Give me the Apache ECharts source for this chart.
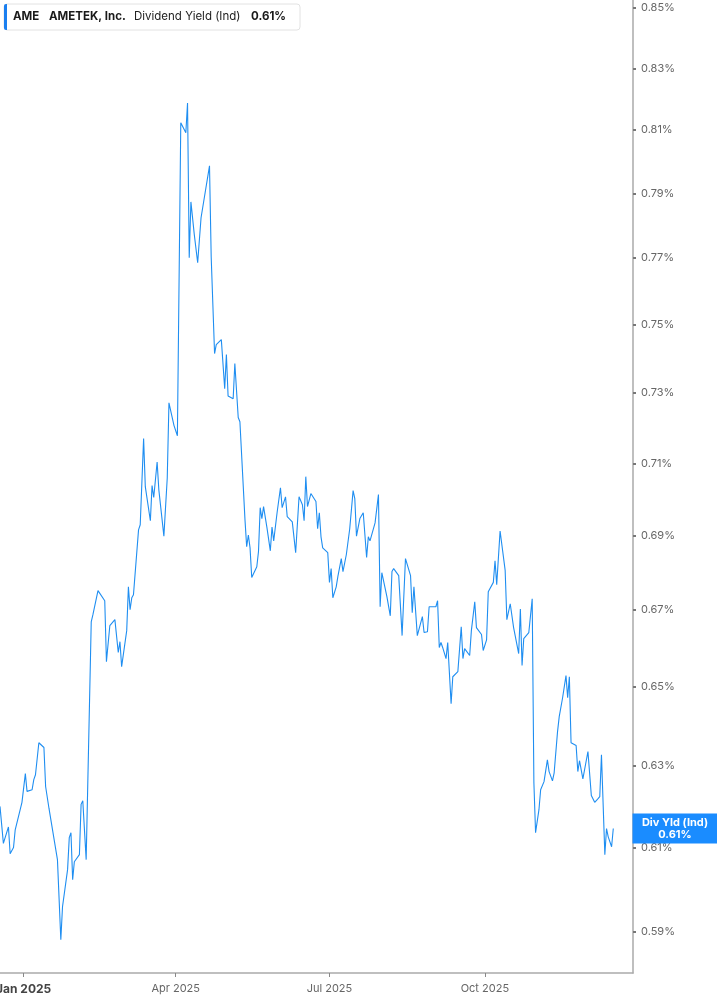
<!DOCTYPE html>
<html>
<head>
<meta charset="utf-8" />
<script src="https://cdn.jsdelivr.net/npm/echarts@6/dist/echarts.min.js"></script>
<style>
  html, body { margin: 0; padding: 0; background: #fff; }
  #chart { width: 717px; height: 1005px; }
</style>
</head>
<body>
<div id="chart"></div>
<script>
// AME dividend yield (indicated)
const dates = [
  '2024-12-18', '2024-12-20', '2024-12-23', '2024-12-24', '2024-12-26', '2024-12-27', '2024-12-31',
  '2025-01-02', '2025-01-03', '2025-01-06', '2025-01-07', '2025-01-08', '2025-01-10', '2025-01-13',
  '2025-01-14', '2025-01-16', '2025-01-17', '2025-01-21', '2025-01-23', '2025-01-24', '2025-01-27',
  '2025-01-28', '2025-01-29', '2025-01-30', '2025-01-31', '2025-02-03', '2025-02-04', '2025-02-05',
  '2025-02-07', '2025-02-10', '2025-02-11', '2025-02-12', '2025-02-14', '2025-02-18', '2025-02-19',
  '2025-02-20', '2025-02-21', '2025-02-24', '2025-02-26', '2025-02-27', '2025-02-28', '2025-03-03',
  '2025-03-04', '2025-03-05', '2025-03-06', '2025-03-07', '2025-03-10', '2025-03-11', '2025-03-13',
  '2025-03-14', '2025-03-17', '2025-03-18', '2025-03-19', '2025-03-21', '2025-03-22', '2025-03-25',
  '2025-03-27', '2025-03-28', '2025-03-31', '2025-04-01', '2025-04-02', '2025-04-04', '2025-04-07',
  '2025-04-08', '2025-04-09', '2025-04-10', '2025-04-12', '2025-04-14', '2025-04-16', '2025-04-21',
  '2025-04-22', '2025-04-24', '2025-04-25', '2025-04-28', '2025-04-30', '2025-05-01', '2025-05-02',
  '2025-05-05', '2025-05-06', '2025-05-08', '2025-05-09', '2025-05-12', '2025-05-13', '2025-05-14',
  '2025-05-15', '2025-05-16', '2025-05-19', '2025-05-20', '2025-05-21', '2025-05-22', '2025-05-23',
  '2025-05-25', '2025-05-27', '2025-05-28', '2025-05-29', '2025-05-31', '2025-06-02', '2025-06-03',
  '2025-06-05', '2025-06-06', '2025-06-09', '2025-06-11', '2025-06-13', '2025-06-15', '2025-06-16',
  '2025-06-17', '2025-06-18', '2025-06-20', '2025-06-23', '2025-06-24', '2025-06-25', '2025-06-26',
  '2025-06-27', '2025-06-30', '2025-07-01', '2025-07-02', '2025-07-03', '2025-07-05', '2025-07-06',
  '2025-07-08', '2025-07-09', '2025-07-11', '2025-07-13', '2025-07-15', '2025-07-16', '2025-07-17',
  '2025-07-19', '2025-07-21', '2025-07-23', '2025-07-24', '2025-07-25', '2025-07-28', '2025-07-29',
  '2025-07-30', '2025-07-31', '2025-08-01', '2025-08-04', '2025-08-06', '2025-08-07', '2025-08-08',
  '2025-08-11', '2025-08-13', '2025-08-15', '2025-08-18', '2025-08-19', '2025-08-20', '2025-08-21',
  '2025-08-22', '2025-08-25', '2025-08-26', '2025-08-28', '2025-08-29', '2025-09-02', '2025-09-03',
  '2025-09-04', '2025-09-05', '2025-09-06', '2025-09-08', '2025-09-09', '2025-09-10', '2025-09-11',
  '2025-09-12', '2025-09-15', '2025-09-17', '2025-09-18', '2025-09-19', '2025-09-22', '2025-09-23',
  '2025-09-25', '2025-09-26', '2025-09-29', '2025-09-30', '2025-10-02', '2025-10-03', '2025-10-06',
  '2025-10-07', '2025-10-08', '2025-10-09', '2025-10-10', '2025-10-13', '2025-10-14', '2025-10-15',
  '2025-10-16', '2025-10-18', '2025-10-21', '2025-10-22', '2025-10-23', '2025-10-24', '2025-10-27',
  '2025-10-29', '2025-10-30', '2025-10-31', '2025-11-02', '2025-11-03', '2025-11-05', '2025-11-07',
  '2025-11-08', '2025-11-10', '2025-11-11', '2025-11-13', '2025-11-14', '2025-11-16', '2025-11-18',
  '2025-11-19', '2025-11-20', '2025-11-21', '2025-11-22', '2025-11-24', '2025-11-25', '2025-11-26',
  '2025-11-28', '2025-12-01', '2025-12-03', '2025-12-04', '2025-12-05', '2025-12-07', '2025-12-08',
  '2025-12-09', '2025-12-11', '2025-12-12', '2025-12-13', '2025-12-15', '2025-12-16'
];

const yields = [
  0.620, 0.611, 0.615, 0.6085, 0.610, 0.6143, 0.621,
  0.6281, 0.6237, 0.6241, 0.6266, 0.6278, 0.6358, 0.6346,
  0.6249, 0.6195, 0.6197, 0.6071, 0.5882, 0.5959, 0.6047,
  0.6124, 0.6136, 0.6023, 0.6066, 0.6083, 0.6205, 0.6214,
  0.6071, 0.6669, 0.6688, 0.6685, 0.6752, 0.6725, 0.6565,
  0.6568, 0.6659, 0.6675, 0.6589, 0.6617, 0.6552, 0.6646,
  0.6762, 0.6701, 0.6733, 0.6741, 0.6916, 0.6930, 0.7170,
  0.7035, 0.6941, 0.7038, 0.7005, 0.7104, 0.7027, 0.6899,
  0.7060, 0.7272, 0.7207, 0.7212, 0.7178, 0.8123, 0.8091,
  0.8187, 0.7701, 0.7873, 0.7772, 0.7686, 0.7824, 0.7986,
  0.7704, 0.7415, 0.7441, 0.7456, 0.7313, 0.7412, 0.7292,
  0.7284, 0.7386, 0.7230, 0.7218, 0.6944, 0.6870, 0.6902,
  0.6867, 0.6787, 0.6816, 0.6857, 0.6977, 0.6947, 0.6980,
  0.6922, 0.6859, 0.6924, 0.6886, 0.6963, 0.7032, 0.6977,
  0.7007, 0.6952, 0.6938, 0.6854, 0.7007, 0.6985, 0.6941,
  0.7063, 0.6980, 0.7016, 0.6994, 0.6919, 0.6963, 0.6897,
  0.6867, 0.6854, 0.6774, 0.6811, 0.6733, 0.6762, 0.6790,
  0.6838, 0.6803, 0.6849, 0.6919, 0.7024, 0.7002, 0.6899,
  0.6947, 0.6963, 0.6841, 0.6897, 0.6886, 0.6935, 0.6930,
  0.7013, 0.6709, 0.6800, 0.6736, 0.6685, 0.6803, 0.6811,
  0.6792, 0.6633, 0.6838, 0.6792, 0.6693, 0.6762, 0.6760,
  0.6633, 0.6683, 0.6641, 0.6643, 0.6709, 0.6709, 0.6725,
  0.6602, 0.6615, 0.6602, 0.6573, 0.6615, 0.6615, 0.6457,
  0.6526, 0.6539, 0.6656, 0.6573, 0.6599, 0.6581, 0.6646,
  0.6722, 0.6654, 0.6636, 0.6594, 0.6622, 0.6749, 0.6774,
  0.6832, 0.6768, 0.6765, 0.6913, 0.6806, 0.6675, 0.6677,
  0.6717, 0.6654, 0.6586, 0.6703, 0.6555, 0.6625, 0.6641,
  0.6730, 0.6259, 0.6136, 0.6192, 0.6241, 0.6261, 0.6315,
  0.6286, 0.6263, 0.6283, 0.6386, 0.6424, 0.6472, 0.6529,
  0.6472, 0.6526, 0.6358, 0.6356, 0.6351, 0.6286, 0.6313,
  0.6268, 0.6336, 0.6227, 0.6224, 0.6210, 0.6219, 0.6224,
  0.6328, 0.6083, 0.6146, 0.6126, 0.6102, 0.6146
];

const yTicks = [0.59, 0.61, 0.63, 0.65, 0.67, 0.69, 0.71, 0.73, 0.75, 0.77, 0.79, 0.81, 0.83, 0.85];
const xTicks = ['2025-01-01', '2025-04-01', '2025-07-01', '2025-10-01'];
const monthNames = ['Jan', 'Feb', 'Mar', 'Apr', 'May', 'Jun', 'Jul', 'Aug', 'Sep', 'Oct', 'Nov', 'Dec'];

const ticker = 'AME';
const company = 'AMETEK, Inc.';
const metric = 'Dividend Yield (Ind)';
const shortMetric = 'Div Yld (Ind)';

const toTime = (s) => {
  const p = s.split('-');
  return new Date(+p[0], +p[1] - 1, +p[2]).getTime();
};

const lastYield = yields[yields.length - 1];
const lastText = lastYield.toFixed(2) + '%';

const chart = echarts.init(document.getElementById('chart'));

// x is a plain value axis holding timestamps, so the quarter ticks can be set by hand
const option = {
  animation: false,
  textStyle: { fontFamily: 'Inter' },
  grid: { left: 0, right: 84, top: 0, bottom: 32, containLabel: false, outerBoundsMode: 'none' },
  xAxis: {
    type: 'value',
    min: toTime('2024-12-18'),
    max: toTime('2025-12-27') + 16 * 3600 * 1000,
    splitLine: { show: false },
    axisLine: { show: true, lineStyle: { color: '#aaa', width: 1.5 } },
    axisTick: {
      show: true,
      length: 4,
      customValues: xTicks.map(toTime),
      lineStyle: { color: '#888' }
    },
    axisLabel: {
      customValues: xTicks.map(toTime),
      margin: 10,
      color: '#666',
      fontSize: 11,
      fontFamily: 'Inter',
      formatter: (v) => {
        const d = new Date(v);
        const txt = monthNames[d.getMonth()] + ' ' + d.getFullYear();
        return d.getMonth() === 0 ? '{yr|' + txt + '}' : txt;
      },
      rich: {
        yr: { fontSize: 12, fontWeight: 'bold', color: '#444', fontFamily: 'Inter' }
      }
    }
  },
  yAxis: {
    type: 'log',
    logBase: 10,
    position: 'right',
    min: 0.5805,
    max: 0.8527,
    splitLine: { show: false },
    axisLine: { show: true, lineStyle: { color: '#aaa', width: 1.5 } },
    axisTick: {
      show: true,
      length: 3,
      customValues: yTicks,
      lineStyle: { color: '#777', width: 2 }
    },
    axisLabel: {
      customValues: yTicks,
      margin: 8,
      color: '#666',
      fontSize: 11,
      fontFamily: 'Inter',
      formatter: (v) => v.toFixed(2) + '%'
    }
  },
  series: [{
    name: metric,
    type: 'line',
    data: dates.map((d, i) => [toTime(d), yields[i]]),
    showSymbol: false,
    lineStyle: { color: '#1f8ef1', width: 1.1 }
  }]
};

chart.setOption(option);

// end-of-line badge sits on the axis at the last value
const endY = chart.convertToPixel({ yAxisIndex: 0 }, lastYield);

const legendFont = { fontSize: 11.5, fontFamily: 'Inter', verticalAlign: 'middle' };

chart.setOption({
  graphic: [
    {
      type: 'rect',
      shape: { x: 4, y: 4, width: 296, height: 26, r: 3 },
      style: { fill: '#fff', stroke: '#e2e2e2', lineWidth: 1 },
      z: 10
    },
    {
      type: 'rect',
      shape: { x: 4, y: 4, width: 3, height: 26, r: [2, 0, 0, 2] },
      style: { fill: '#1a7ff0' },
      z: 11
    },
    {
      type: 'text', z: 11,
      style: Object.assign({ text: ticker, x: 13, y: 17, fill: '#1a1a1a', fontWeight: 'bold' }, legendFont)
    },
    {
      type: 'text', z: 11,
      style: Object.assign({ text: company, x: 49, y: 17, fill: '#1a1a1a', fontWeight: 'bold' }, legendFont)
    },
    {
      type: 'text', z: 11,
      style: Object.assign({ text: metric, x: 134, y: 17, fill: '#222' }, legendFont)
    },
    {
      type: 'text', z: 11,
      style: Object.assign({ text: lastText, x: 251, y: 17, fill: '#1a1a1a', fontWeight: 'bold' }, legendFont)
    },
    {
      type: 'rect',
      shape: { x: 632.5, y: endY - 15, width: 85, height: 30 },
      style: { fill: '#1a8cff' },
      z: 10
    },
    {
      type: 'text', z: 11,
      style: { text: shortMetric, x: 675, y: endY - 5.5, align: 'center', verticalAlign: 'middle', fill: '#fff', fontSize: 11, fontWeight: 'bold', fontFamily: 'Inter' }
    },
    {
      type: 'text', z: 11,
      style: { text: lastText, x: 675, y: endY + 6, align: 'center', verticalAlign: 'middle', fill: '#fff', fontSize: 11, fontWeight: 'bold', fontFamily: 'Inter' }
    }
  ]
});
</script>
</body>
</html>
